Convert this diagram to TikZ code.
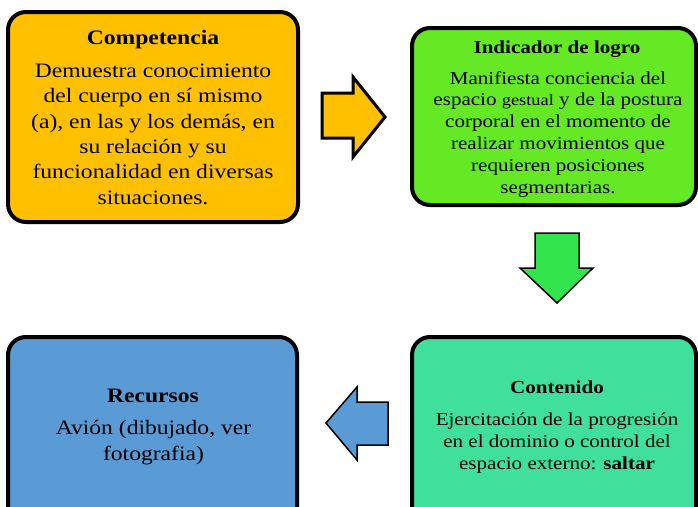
\documentclass[tikz,border=0pt]{standalone}
\usepackage{fontspec}
\setmainfont{Liberation Serif}[FakeStretch=1.15]
\definecolor{compc}{HTML}{FFC000}
\definecolor{indc}{HTML}{65E925}
\definecolor{contc}{HTML}{40E09C}
\definecolor{recc}{HTML}{5B9BD5}
\definecolor{downc}{HTML}{33E54C}
\tikzset{
  box/.style={draw=black, line width=4pt, rounded corners=18pt, anchor=north west, inner sep=0pt, outer sep=0pt},
  blockarrow/.style={draw=black, line join=miter},
  bigtxt/.style={anchor=base, align=center, font=\fontsize{20.5}{25.3}\selectfont},
  bigttl/.style={anchor=base, align=center, font=\fontsize{20.5}{25.3}\selectfont\bfseries},
  smtxt/.style={anchor=base, align=center, font=\fontsize{18.3}{21.8}\selectfont},
  smttl/.style={anchor=base, align=center, font=\fontsize{18.3}{21.8}\selectfont\bfseries},
}
\begin{document}
\begin{tikzpicture}[x=1pt,y=-1pt]
\useasboundingbox (0,0) rectangle (698,506);
\clip (0,0) rectangle (698,506);
\fill[white] (0,0) rectangle (698,506);

% boxes
\node[box, fill=compc, minimum width=290pt, minimum height=210pt] (comp) at (8,12) {};
\node[box, fill=indc, minimum width=284pt, minimum height=177pt] (ind) at (412,28) {};
\node[box, fill=contc, minimum width=284pt, minimum height=210pt] (cont) at (412,337) {};
\node[box, fill=recc, minimum width=289pt, minimum height=210pt] (rec) at (8,337) {};

% texts (base anchor = last line's baseline)
\node[bigttl] (compttl) at (153,44) {Competencia};
\node[bigtxt] (comptxt) at (153,204) {Demuestra conocimiento\\del cuerpo en sí mismo\\(a), en las y los demás, en\\su relación y su\\funcionalidad en diversas\\situaciones.};

\node[smttl] (indttl) at (557,53) {Indicador de logro};
\node[smtxt] (indtxt) at (558,193) {Manifiesta conciencia del\\espacio {\fontsize{16}{21.8}\selectfont gestual} y de la postura\\corporal en el momento de\\realizar movimientos que\\requieren posiciones\\segmentarias.};

\node[smttl] (contttl) at (557,393) {Contenido};
\node[smtxt] (conttxt) at (557,469) {Ejercitación de la progresión\\en el dominio o control del\\espacio externo: \textbf{saltar}};

\node[bigttl] (recttl) at (153,402) {Recursos};
\node[bigtxt] (rectxt) at (153.5,460) {Avión (dibujado, ver\\fotografia)};

% block arrows
\draw[blockarrow, fill=compc, line width=3pt] (322,93) -- (353,93) -- (353,77) -- (385,117) -- (353,157) -- (353,138) -- (322,138) -- cycle;
\draw[blockarrow, fill=downc, line width=1.5pt] (535,233) -- (579,233) -- (579,268) -- (593,268) -- (557,303) -- (520,268) -- (535,268) -- cycle;
\draw[blockarrow, fill=recc, line width=1.5pt] (388,402) -- (357,402) -- (357,387) -- (326,423) -- (357,460) -- (357,445) -- (388,445) -- cycle;
\end{tikzpicture}
\end{document}
